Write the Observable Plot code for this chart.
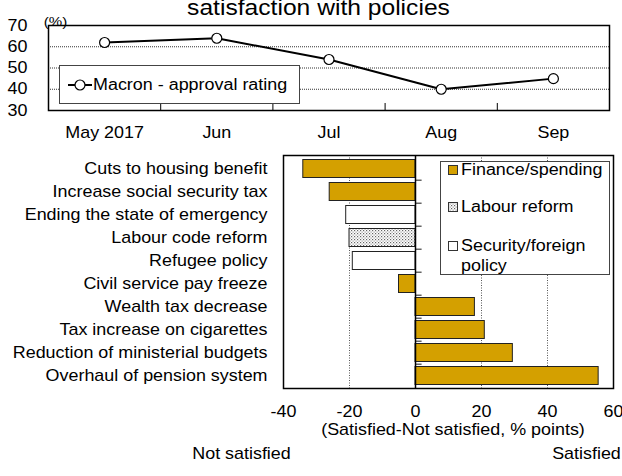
<!DOCTYPE html>
<html><head><meta charset="utf-8">
<script src="https://cdn.jsdelivr.net/npm/d3@7"></script>
<script src="https://cdn.jsdelivr.net/npm/@observablehq/plot@0.6"></script>
<style>
html,body{margin:0;padding:0;background:#fff;}
#chart{position:relative;width:622px;height:476px;overflow:hidden;font-family:"Liberation Sans",Arial,sans-serif;color:#000;}
#chart > svg{position:absolute;left:0;}
.legend{position:absolute;background:#fff;border:1px solid #444;box-sizing:border-box;}
.lg{position:absolute;font-size:16px;line-height:18px;white-space:nowrap;display:inline-block;transform:scaleX(1.12);transform-origin:left center;}
.sw{position:absolute;}
</style></head><body><div id="chart"></div>
<script>
// ---- data ----
const titleText = "satisfaction with policies";
const months = ["May 2017", "Jun", "Jul", "Aug", "Sep"];
const approval = [62, 64, 54, 40, 45];
const approvalTicks = [30, 40, 50, 60, 70];
const seriesName = "Macron - approval rating";

const policies = [
  "Cuts to housing benefit",
  "Increase social security tax",
  "Ending the state of emergency",
  "Labour code reform",
  "Refugee policy",
  "Civil service pay freeze",
  "Wealth tax decrease",
  "Tax increase on cigarettes",
  "Reduction of ministerial budgets",
  "Overhaul of pension system"
];
const netSatisfaction = [-34, -26, -21, -20, -19, -5, 18, 21, 29.5, 55.5];
const policyGroup = [
  "Finance/spending", "Finance/spending", "Security/foreign policy", "Labour reform",
  "Security/foreign policy", "Finance/spending", "Finance/spending", "Finance/spending",
  "Finance/spending", "Finance/spending"
];
const groupNames = ["Finance/spending", "Labour reform", "Security/foreign policy"];
const groupLegendLabels = ["Finance/spending", "Labour reform", "Security/foreign<br>policy"];
const netTicks = [-40, -20, 0, 20, 40, 60];
const axisLabel = "(Satisfied-Not satisfied, % points)";
const leftNote = "Not satisfied";
const rightNote = "Satisfied";

// ---- styles ----
const FONT = '"Liberation Sans", Arial, sans-serif';
const SX = 1.12;
const groupFills = ["#d4a000", "url(#dots)", "#ffffff"];

const chart = document.getElementById("chart");

function stretch(svg) {
  svg.querySelectorAll("text").forEach(t => {
    const a = getComputedStyle(t).textAnchor;
    const b = t.getBBox();
    const ox = a === "end" ? b.x + b.width : a === "middle" ? b.x + b.width / 2 : b.x;
    const prev = t.getAttribute("transform") || "";
    t.setAttribute("transform", `${prev} translate(${ox},0) scale(${SX},1) translate(${-ox},0)`);
  });
}

// ---- top chart ----
const idx = months.map((_, i) => i);
const bounds = idx.slice(1).map(i => i - 0.5);
const topPlot = Plot.plot({
  width: 622, height: 146,
  marginTop: 25, marginBottom: 36, marginLeft: 48, marginRight: 13,
  style: {fontFamily: FONT, fontSize: "16px", background: "transparent", color: "#000"},
  x: {domain: [-0.5, months.length - 0.5], ticks: idx, tickFormat: i => months[i], tickSize: 0, tickPadding: 16, label: null},
  y: {domain: [30, 70], ticks: approvalTicks, tickFormat: d => d.toString(), tickSize: 0, tickPadding: 21, label: null},
  marks: [
    Plot.ruleY(approvalTicks.slice(1, -1), {stroke: "#333", strokeDasharray: "1,1"}),
    Plot.ruleX(bounds, {x: d => d, y1: 30, y2: 33.3, stroke: "#000", strokeWidth: 1}),
    Plot.line(idx, {x: i => i, y: i => approval[i], stroke: "#000", strokeWidth: 2}),
    Plot.dot(idx, {x: i => i, y: i => approval[i], r: 5, fill: "#fff", stroke: "#000", strokeWidth: 1.2}),
    Plot.frame({stroke: "#000", strokeWidth: 1.5}),
    Plot.text(["(%)"], {text: d => d, frameAnchor: "top-left", textAnchor: "middle", dx: 7, dy: -9, fontSize: 13.5}),
    Plot.text([titleText], {text: d => d, frameAnchor: "top", textAnchor: "middle", dx: -10.5, dy: -26, fontSize: 22})
  ]
});
topPlot.style.top = "0px";
chart.appendChild(topPlot);
stretch(topPlot);

// ---- bottom chart ----
const rows = policies.map((p, i) => ({policy: p, value: netSatisfaction[i], group: policyGroup[i]}));
const bottomH = 336, mT = 15, mB = 88;
const step = (bottomH - mT - mB) / policies.length;
const botPlot = Plot.plot({
  width: 622, height: bottomH,
  marginTop: mT, marginBottom: mB, marginLeft: 283, marginRight: 9,
  style: {fontFamily: FONT, fontSize: "16px", background: "transparent", color: "#000"},
  x: {domain: [-40, 60], ticks: netTicks, tickFormat: d => d.toString(), tickSize: 0, tickPadding: 17, label: null},
  y: {domain: policies, padding: 0, tickSize: 0, tickPadding: 16, label: null},
  color: {domain: groupNames, range: groupFills},
  marks: [
    Plot.ruleX(netTicks.filter(v => v !== 0 && v > -40 && v < 60), {stroke: "#555", strokeDasharray: "1,1.5"}),
    Plot.barX(rows, {x: "value", y: "policy", fill: "group", stroke: "#222", strokeWidth: 1, insetTop: 2.5, insetBottom: 2.5}),
    Plot.ruleX([0], {stroke: "#000", strokeWidth: 1.5}),
    Plot.barX(policies.slice(0, -1), {y: d => d, x1: 0, x2: 2, fill: "#000", insetTop: step - 0.6, insetBottom: -0.6}),
    Plot.frame({stroke: "#000", strokeWidth: 1.5}),
    Plot.text([axisLabel], {text: d => d, frameAnchor: "bottom", textAnchor: "middle", dx: 4.5, dy: 46}),
    Plot.text([leftNote], {text: d => d, frameAnchor: "bottom-left", textAnchor: "middle", dx: -42, dy: 70}),
    Plot.text([rightNote], {text: d => d, frameAnchor: "bottom-right", textAnchor: "middle", dx: -27, dy: 70})
  ]
});
const ns = "http://www.w3.org/2000/svg";
const defs = document.createElementNS(ns, "defs");
defs.innerHTML = '<pattern id="dots" width="3" height="3" patternUnits="userSpaceOnUse"><rect width="3" height="3" fill="#fff"/><rect x="0" y="0" width="1.2" height="1.2" fill="#666"/><rect x="1.5" y="1.5" width="1.2" height="1.2" fill="#999"/></pattern>';
botPlot.insertBefore(defs, botPlot.firstChild);
botPlot.style.top = "140px";
chart.appendChild(botPlot);
stretch(botPlot);

// ---- legends (HTML overlays) ----
const lg1 = document.createElement("div");
lg1.className = "legend";
Object.assign(lg1.style, {left: "59px", top: "65px", width: "241px", height: "39px"});
lg1.innerHTML = `<svg class="sw" width="28" height="14" style="left:7px;top:12px"><line x1="1" x2="25" y1="7" y2="7" stroke="#000" stroke-width="2"/><circle cx="13" cy="7" r="5" fill="#fff" stroke="#000" stroke-width="1.2"/></svg>` +
  `<span class="lg" style="left:33px;top:10px">${seriesName}</span>`;
chart.appendChild(lg1);

const lg2 = document.createElement("div");
lg2.className = "legend";
Object.assign(lg2.style, {left: "440px", top: "160.5px", width: "170px", height: "114px"});
const centers = [8.5, 45.8, 84.2];
lg2.innerHTML = groupNames.map((g, i) =>
  `<svg class="sw" width="10" height="10" style="left:6.5px;top:${centers[i] - 5}px"><rect x="0.5" y="0.5" width="9" height="9" fill="${groupFills[i]}" stroke="#333" stroke-width="1"/></svg>` +
  `<span class="lg" style="left:19.5px;top:${centers[i] - 10}px;line-height:20px">${groupLegendLabels[i]}</span>`
).join("");
chart.appendChild(lg2);
</script>
</body></html>
